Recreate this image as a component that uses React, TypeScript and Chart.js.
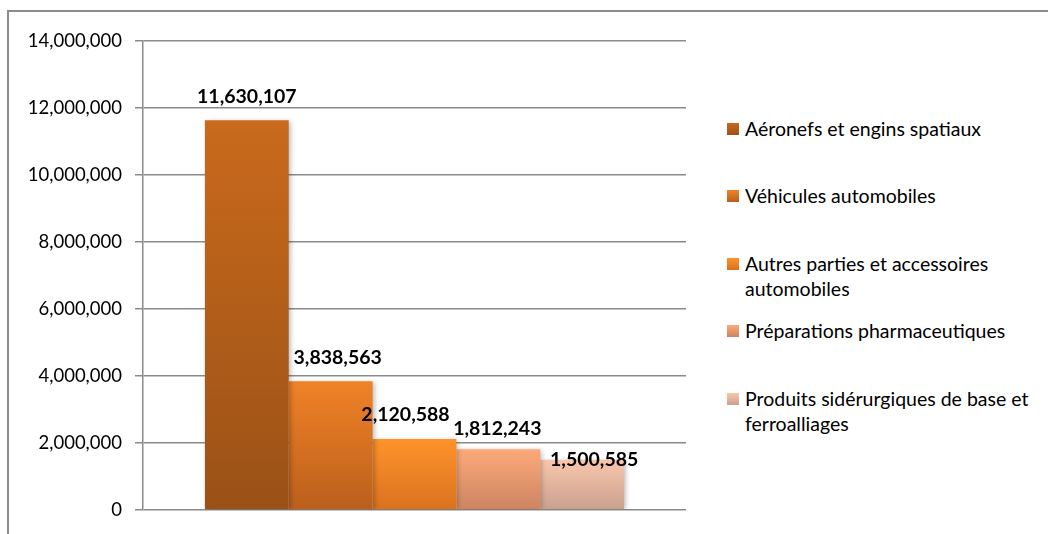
import React, { useEffect, useRef } from "react";
import { Chart, registerables } from "chart.js";

Chart.register(...registerables);

const categories = [""];
const seriesNames = [
  "Aéronefs et engins spatiaux",
  "Véhicules automobiles",
  "Autres parties et accessoires automobiles",
  "Préparations pharmaceutiques",
  "Produits sidérurgiques de base et ferroalliages",
];
const seriesValues = [11630107, 3838563, 2120588, 1812243, 1500585];
const yTicks = [0, 2000000, 4000000, 6000000, 8000000, 10000000, 12000000, 14000000];

const topColors = ["#C96A1C", "#F08227", "#FF932B", "#FDAA7A", "#F9C6AC"];
const bottomColors = ["#9A5117", "#BB5F1C", "#D97220", "#CC8460", "#C9A08F"];

// label offsets (style only) relative to bar top / center
const labelDx = [0, 7, -9, -1, 12];
const labelDy = [-17, -17, -18, -14, 6];

const FONT = "Lato, 'Open Sans', sans-serif";
const fmt = (v: number) => v.toLocaleString("en-US");

export default function App() {
  const ref = useRef<HTMLCanvasElement>(null);

  useEffect(() => {
    document.body.style.margin = "0";
    const canvas = ref.current;
    if (!canvas) return;

    const shadowPlugin = {
      id: "barShadow",
      beforeDatasetsDraw(chart: any) {
        const c = chart.ctx;
        c.save();
        c.shadowColor = "rgba(0,0,0,0.28)";
        c.shadowBlur = 5;
        c.shadowOffsetX = 2;
        c.shadowOffsetY = 1;
      },
      afterDatasetsDraw(chart: any) {
        chart.ctx.restore();
      },
    };

    const labelPlugin = {
      id: "valueLabels",
      afterDraw(chart: any) {
        const c = chart.ctx;
        c.save();
        c.font = `bold 19.5px ${FONT}`;
        c.fillStyle = "#000";
        c.textAlign = "center";
        c.textBaseline = "alphabetic";
        chart.data.datasets.forEach((ds: any, i: number) => {
          const meta = chart.getDatasetMeta(i);
          meta.data.forEach((bar: any, j: number) => {
            c.fillText(fmt(ds.data[j]), bar.x + labelDx[i], bar.y + labelDy[i]);
          });
        });
        c.restore();
      },
    };

    const chart = new Chart(canvas, {
      type: "bar",
      data: {
        labels: categories,
        datasets: seriesValues.map((v, i) => ({
          label: seriesNames[i],
          data: [v],
          borderWidth: 0,
          backgroundColor: (ctx: any) => {
            const ch = ctx.chart;
            const area = ch.chartArea;
            if (!area || !ch.scales.y) return topColors[i];
            const top = ch.scales.y.getPixelForValue(v);
            const g = ch.ctx.createLinearGradient(0, top, 0, area.bottom);
            g.addColorStop(0, topColors[i]);
            g.addColorStop(1, bottomColors[i]);
            return g;
          },
        })),
      },
      options: {
        responsive: false,
        animation: false,
        events: [],
        layout: { padding: { top: 41, bottom: 24, left: 0, right: 0 } },
        datasets: {
          bar: { categoryPercentage: 0.772, barPercentage: 1 },
        } as any,
        plugins: {
          legend: { display: false },
          tooltip: { enabled: false },
          title: { display: false },
        },
        scales: {
          x: { display: false },
          y: {
            min: 0,
            max: 14000000,
            afterFit(scale: any) {
              scale.width = 143;
            },
            afterBuildTicks(scale: any) {
              scale.ticks = yTicks.map((value) => ({ value }));
            },
            border: { display: true, color: "#8a8a8a", width: 1.5 },
            grid: {
              color: "#8a8a8a",
              lineWidth: 1.5,
              tickLength: 8,
              drawTicks: true,
            },
            ticks: {
              padding: 13,
              color: "#000",
              font: { family: FONT, size: 18.5 },
              callback: (v: any) => fmt(Number(v)),
            },
          },
        },
      },
      plugins: [shadowPlugin, labelPlugin],
    });

    return () => chart.destroy();
  }, []);

  return (
    <div
      style={{
        position: "relative",
        width: 1048,
        height: 534,
        overflow: "hidden",
        background: "#fff",
        fontFamily: FONT,
      }}
    >
      <div
        style={{
          position: "absolute",
          left: 7,
          top: 10,
          width: 1200,
          height: 700,
          borderLeft: "2px solid #8c8c8c",
          borderTop: "2px solid #8c8c8c",
          boxSizing: "border-box",
        }}
      />
      <canvas
        ref={ref}
        width={686}
        height={534}
        style={{ position: "absolute", left: 0, top: 0, width: 686, height: 534 }}
      />
      {seriesNames.map((name, i) => (
        <div
          key={name}
          style={{
            position: "absolute",
            left: 727,
            top: 128 + i * 67.5 - 12.5,
            width: 312,
            display: "flex",
            alignItems: "flex-start",
            fontSize: 19.5,
            lineHeight: "25px",
            color: "#000",
          }}
        >
          <span
            style={{
              display: "inline-block",
              width: 12,
              height: 12,
              marginTop: 7,
              marginRight: 6,
              flex: "0 0 auto",
              background: `linear-gradient(${topColors[i]}, ${bottomColors[i]})`,
            }}
          />
          <span>{name}</span>
        </div>
      ))}
    </div>
  );
}
